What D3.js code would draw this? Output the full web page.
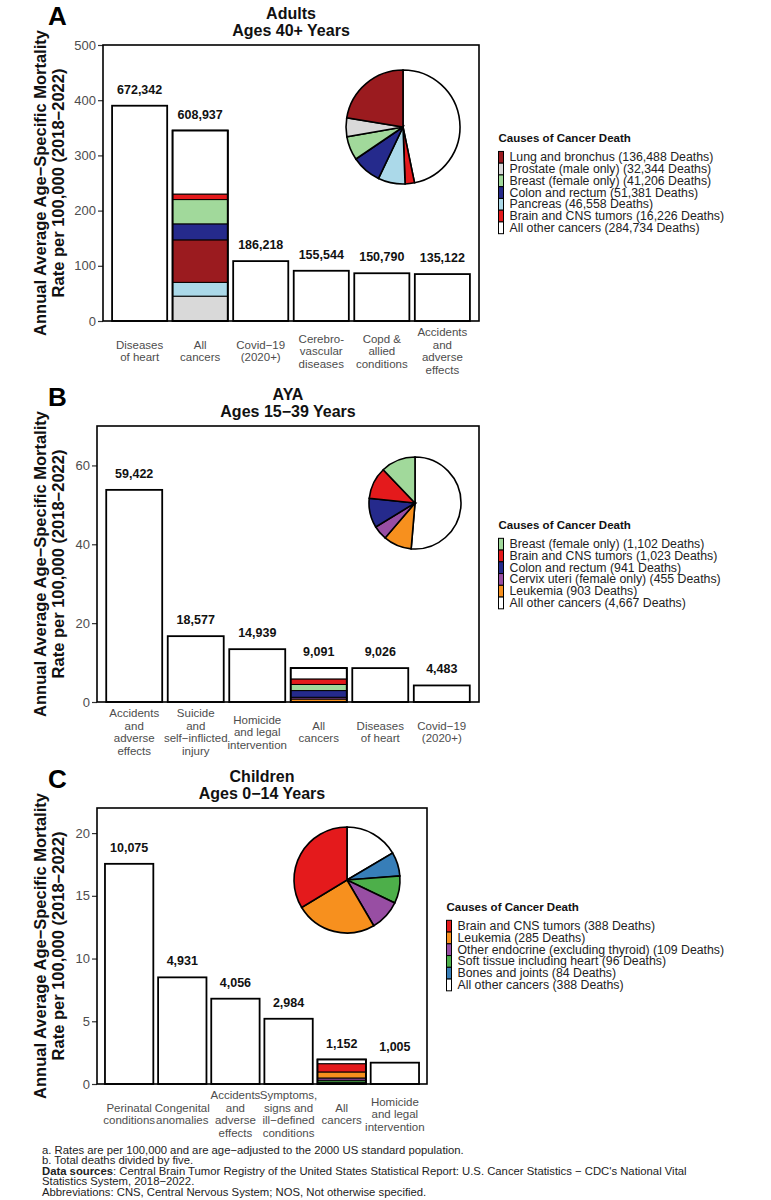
<!DOCTYPE html>
<html lang="en">
<head>
<meta charset="UTF-8">
<title>Leading causes of death by age group</title>
<script src="https://d3js.org/d3.v7.min.js"></script>
<style>
  body { margin: 0; background: #fff; }
  text { font-family: "Liberation Sans", Arial, Helvetica, sans-serif; }
  .bar { fill: #fff; stroke: #000; stroke-width: 1.8px; }
  .outline { fill: none; stroke: #000; stroke-width: 1.8px; }
  .seg { stroke: #000; stroke-width: 1px; }
  .frame { fill: none; stroke: #000; stroke-width: 1.6px; }
  .tick text { fill: #4d4d4d; font-size: 13px; }
  .tick line { stroke: #333; stroke-width: 1.2px; }
  .xlab { fill: #4d4d4d; font-size: 11.5px; }
  .count { font-size: 12.5px; font-weight: bold; fill: #111; }
  .title { font-size: 16px; font-weight: bold; fill: #111; }
  .letter { font-size: 26px; font-weight: bold; fill: #000; }
  .ytitle { font-size: 16.5px; font-weight: bold; fill: #111; }
  .slice { stroke: #000; stroke-width: 1.6px; }
  .legtitle { font-size: 11.5px; font-weight: bold; fill: #111; }
  .legitem { font-size: 12.3px; fill: #222; }
  .note { font-size: 11.3px; fill: #222; }
</style>
</head>
<body>
<svg id="chart" width="771" height="1200"></svg>
<script>
// ---------- Panel A: adults, ages 40+ ----------
const causesA = ["Diseases\nof heart", "All\ncancers", "Covid\u221219\n(2020+)", "Cerebro-\nvascular\ndiseases", "Copd &\nallied\nconditions", "Accidents\nand\nadverse\neffects"];
const ratesA = [390, 345, 108.5, 91, 86.5, 85];
const deathsA = [672342, 608937, 186218, 155544, 150790, 135122];
const cancersA = ["Lung and bronchus", "Prostate (male only)", "Breast (female only)", "Colon and rectum", "Pancreas", "Brain and CNS tumors", "All other cancers"];
const cancerDeathsA = [136488, 32344, 41206, 51381, 46558, 16226, 284734];
const cancerColorsA = ["#9b1b1f", "#d9d9d9", "#a1d99b", "#252a8c", "#abd9e9", "#e41a1c", "#ffffff"];
const stackRatesA = [77, 45, 44, 29, 25, 10, 115];   // same order as cancersA
const stackOrderA = [1, 4, 0, 3, 2, 5, 6];           // bottom to top

// ---------- Panel B: AYA, ages 15-39 ----------
const causesB = ["Accidents\nand\nadverse\neffects", "Suicide\nand\nself\u2212inflicted\ninjury", "Homicide\nand legal\nintervention", "All\ncancers", "Diseases\nof heart", "Covid\u221219\n(2020+)"];
const ratesB = [53.8, 16.7, 13.4, 8.6, 8.6, 4.2];
const deathsB = [59422, 18577, 14939, 9091, 9026, 4483];
const cancersB = ["Breast (female only)", "Brain and CNS tumors", "Colon and rectum", "Cervix uteri (female only)", "Leukemia", "All other cancers"];
const cancerDeathsB = [1102, 1023, 941, 455, 903, 4667];
const cancerColorsB = ["#a1d99b", "#e41a1c", "#252a8c", "#984ea3", "#f7901e", "#ffffff"];
const stackRatesB = [1.55, 1.4, 1.7, 0.45, 0.75, 2.75];
const stackOrderB = [4, 3, 2, 0, 1, 5];

// ---------- Panel C: children, ages 0-14 ----------
const causesC = ["Perinatal\nconditions", "Congenital\nanomalies", "Accidents\nand\nadverse\neffects", "Symptoms,\nsigns and\nill\u2212defined\nconditions", "All\ncancers", "Homicide\nand legal\nintervention"];
const ratesC = [17.55, 8.5, 6.8, 5.2, 1.95, 1.7];
const deathsC = [10075, 4931, 4056, 2984, 1152, 1005];
const cancersC = ["Brain and CNS tumors", "Leukemia", "Other endocrine (excluding thyroid)", "Soft tissue including heart", "Bones and joints", "All other cancers"];
const cancerDeathsC = [388, 285, 109, 96, 84, 388];  // as printed in the legend
const pieDeathsC = [388, 285, 109, 96, 84, 190];     // slice sizes as drawn
const cancerColorsC = ["#e41a1c", "#f7901e", "#984ea3", "#4daf4a", "#377eb8", "#ffffff"];
const stackRatesC = [0.66, 0.48, 0.18, 0.16, 0.14, 0.33];
const stackOrderC = [4, 3, 2, 1, 0, 5];

const ticksA = [0, 100, 200, 300, 400, 500];
const ticksB = [0, 20, 40, 60];
const ticksC = [0, 5, 10, 15, 20];

const notes = [
  [["", "a. Rates are per 100,000 and are age\u2212adjusted to the 2000 US standard population."]],
  [["", "b. Total deaths divided by five."]],
  [["b", "Data sources"], ["", ": Central Brain Tumor Registry of the United States Statistical Report: U.S. Cancer Statistics \u2212 CDC's National Vital"]],
  [["", "Statistics System, 2018\u22122022."]],
  [["", "Abbreviations: CNS, Central Nervous System; NOS, Not otherwise specified."]]
];

const svg = d3.select("#chart");
const fmt = d3.format(",");
const BOX_H = 276;

function drawPanel(p) {
  const g = svg.append("g");
  const bottom = p.top + BOX_H;

  const x = d3.scaleBand()
    .domain(d3.range(p.causes.length))
    .range([p.left, p.right])
    .paddingInner(0.09)
    .paddingOuter(0.15);
  const y = d3.scaleLinear().domain([0, p.yMax]).range([bottom, p.top]);

  // panel letter and title
  g.append("text").attr("class", "letter").attr("x", 48).attr("y", p.top - 20).text(p.letter);
  const cx = (p.left + p.right) / 2;
  g.append("text").attr("class", "title").attr("x", cx).attr("y", p.top - 26)
    .attr("text-anchor", "middle").text(p.title[0]);
  g.append("text").attr("class", "title").attr("x", cx).attr("y", p.top - 9)
    .attr("text-anchor", "middle").text(p.title[1]);

  // y axis
  g.append("g")
    .attr("transform", `translate(${p.left},0)`)
    .call(d3.axisLeft(y).tickValues(p.ticks).tickSize(5).tickPadding(2))
    .call(a => a.select(".domain").remove())
    .call(a => a.selectAll(".tick text").attr("font-family", null).attr("font-size", null));

  const midY = (p.top + bottom) / 2;
  const yt = g.append("g").attr("transform", `translate(40,${midY}) rotate(-90)`);
  yt.append("text").attr("class", "ytitle").attr("text-anchor", "middle")
    .attr("dominant-baseline", "central").text("Annual Average Age\u2212Specific Mortality");
  yt.append("text").attr("class", "ytitle").attr("text-anchor", "middle").attr("y", 17.5)
    .attr("dominant-baseline", "central").text("Rate per 100,000 (2018\u22122022)");

  // bars
  g.selectAll("rect.bar").data(p.rates).join("rect")
    .attr("class", "bar")
    .attr("x", (d, i) => x(i))
    .attr("width", x.bandwidth())
    .attr("y", d => y(d))
    .attr("height", d => bottom - y(d));

  // stacked cancer bar
  const ci = p.cancerBar;
  let acc = 0;
  const segs = p.stackOrder.map(k => {
    const s = { k, y0: acc, y1: acc + p.stackRates[k] };
    acc = s.y1;
    return s;
  });
  g.selectAll("rect.seg").data(segs).join("rect")
    .attr("class", "seg")
    .attr("x", x(ci))
    .attr("width", x.bandwidth())
    .attr("y", d => y(d.y1))
    .attr("height", d => y(d.y0) - y(d.y1))
    .attr("fill", d => p.colors[d.k]);
  g.append("rect").attr("class", "outline")
    .attr("x", x(ci)).attr("width", x.bandwidth())
    .attr("y", y(p.rates[ci])).attr("height", bottom - y(p.rates[ci]));

  // counts above bars
  g.selectAll("text.count").data(p.deaths).join("text")
    .attr("class", "count")
    .attr("x", (d, i) => x(i) + x.bandwidth() / 2)
    .attr("y", (d, i) => y(p.rates[i]) - 12)
    .attr("text-anchor", "middle")
    .text(d => fmt(d));

  // category labels
  p.causes.forEach((c, i) => {
    const lines = c.split("\n");
    const t = g.append("text").attr("class", "xlab").attr("text-anchor", "middle");
    lines.forEach((ln, j) => {
      t.append("tspan")
        .attr("x", x(i) + x.bandwidth() / 2)
        .attr("y", bottom + 30 + (j - (lines.length - 1) / 2) * 12.5)
        .attr("dominant-baseline", "central")
        .text(ln);
    });
  });

  // frame
  g.append("rect").attr("class", "frame")
    .attr("x", p.left).attr("y", p.top)
    .attr("width", p.right - p.left).attr("height", BOX_H);

  // pie (clockwise from 12 o'clock, reverse legend order)
  const order = d3.range(p.cancers.length).reverse();
  const pie = d3.pie().sort(null).value(k => p.pieValues[k]);
  const arc = d3.arc().innerRadius(0).outerRadius(p.pie.r);
  g.append("g")
    .attr("transform", `translate(${p.pie.x},${p.pie.y})`)
    .selectAll("path").data(pie(order)).join("path")
    .attr("class", "slice")
    .attr("d", arc)
    .attr("fill", d => p.colors[d.data]);

  // legend, centred on the panel
  const step = 11.75;
  const n = p.cancers.length;
  const L = 25 + (n - 1) * step + step / 2;
  const tc = midY + 6 - L / 2;
  const lx = p.right + 19.5;
  g.append("text").attr("class", "legtitle").attr("x", lx).attr("y", tc)
    .attr("dominant-baseline", "central").text("Causes of Cancer Death");
  const items = g.selectAll("g.leg").data(p.cancers).join("g")
    .attr("transform", (d, i) => `translate(${lx},${tc + 19 + i * step})`);
  items.append("rect")
    .attr("x", 0).attr("y", -step / 2).attr("width", 5).attr("height", step)
    .attr("fill", (d, i) => p.colors[i]).attr("stroke", "#000").attr("stroke-width", 1);
  items.append("text").attr("class", "legitem")
    .attr("x", 11).attr("dominant-baseline", "central")
    .text((d, i) => `${d} (${fmt(p.legendDeaths[i])} Deaths)`);
}

drawPanel({
  letter: "A", title: ["Adults", "Ages 40+ Years"],
  top: 45, left: 103, right: 479, yMax: 500, ticks: ticksA,
  causes: causesA, rates: ratesA, deaths: deathsA, cancerBar: 1,
  cancers: cancersA, legendDeaths: cancerDeathsA, pieValues: cancerDeathsA,
  colors: cancerColorsA, stackRates: stackRatesA, stackOrder: stackOrderA,
  pie: { x: 403, y: 127, r: 57 }
});

drawPanel({
  letter: "B", title: ["AYA", "Ages 15\u221239 Years"],
  top: 426, left: 97, right: 479, yMax: 70, ticks: ticksB,
  causes: causesB, rates: ratesB, deaths: deathsB, cancerBar: 3,
  cancers: cancersB, legendDeaths: cancerDeathsB, pieValues: cancerDeathsB,
  colors: cancerColorsB, stackRates: stackRatesB, stackOrder: stackOrderB,
  pie: { x: 415, y: 503, r: 46 }
});

drawPanel({
  letter: "C", title: ["Children", "Ages 0\u221214 Years"],
  top: 808, left: 97, right: 427, yMax: 22, ticks: ticksC,
  causes: causesC, rates: ratesC, deaths: deathsC, cancerBar: 4,
  cancers: cancersC, legendDeaths: cancerDeathsC, pieValues: pieDeathsC,
  colors: cancerColorsC, stackRates: stackRatesC, stackOrder: stackOrderC,
  pie: { x: 347, y: 880, r: 53 }
});

// footnotes
const nt = svg.append("g");
notes.forEach((parts, i) => {
  const t = nt.append("text").attr("class", "note").attr("x", 42).attr("y", 1153.5 + i * 10.6);
  parts.forEach(([style, s]) => {
    t.append("tspan").attr("font-weight", style === "b" ? "bold" : null).text(s);
  });
});
</script>
</body>
</html>
